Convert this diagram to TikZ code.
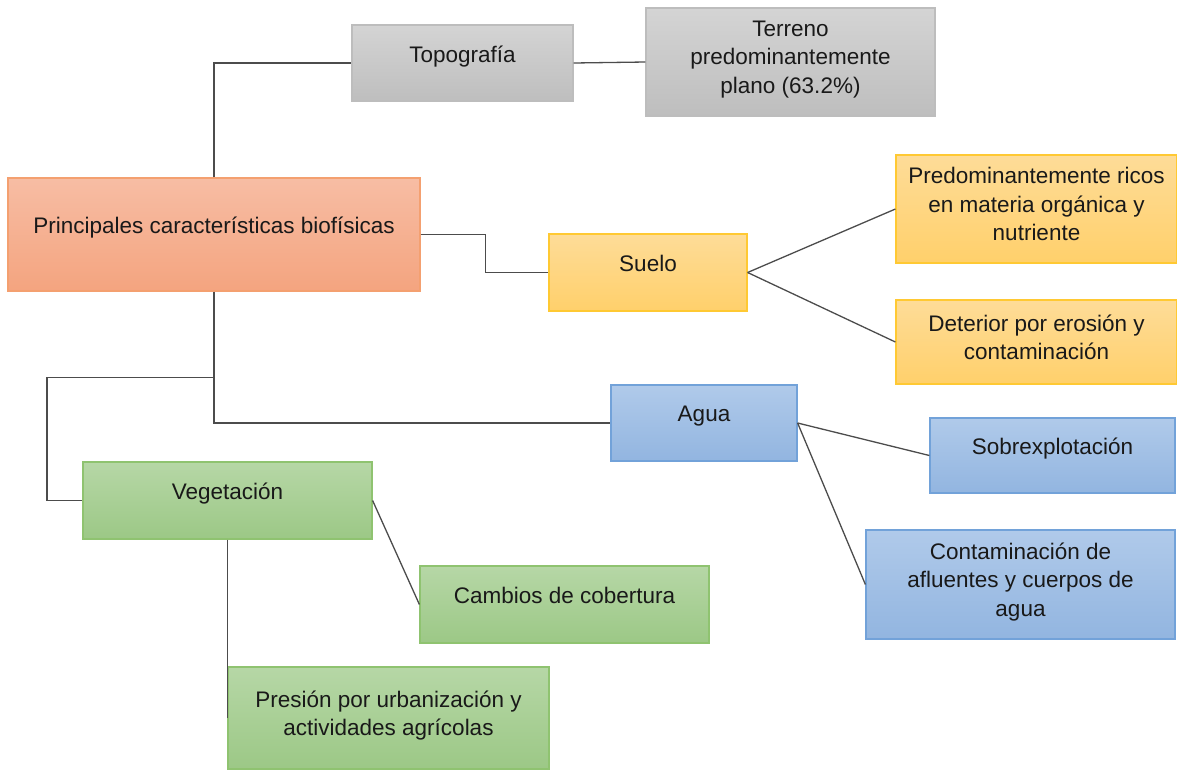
\documentclass[tikz,border=0pt]{standalone}
\usepackage{fontspec}
\setmainfont{Liberation Sans}
\usepackage{tikz}
\usepackage{xcolor}

\definecolor{gristop}{HTML}{D4D4D4}
\definecolor{grisbot}{HTML}{BEBEBE}
\definecolor{grisbor}{HTML}{BDBDBD}
\definecolor{natop}{HTML}{F7BDA4}
\definecolor{nabot}{HTML}{F4A47F}
\definecolor{nabor}{HTML}{F4A070}
\definecolor{amtop}{HTML}{FEDC98}
\definecolor{ambot}{HTML}{FFD06B}
\definecolor{ambor}{HTML}{FFC933}
\definecolor{aztop}{HTML}{B0CAEA}
\definecolor{azbot}{HTML}{92B5E0}
\definecolor{azbor}{HTML}{72A2D9}
\definecolor{vetop}{HTML}{B6D7A6}
\definecolor{vebot}{HTML}{9CC886}
\definecolor{vebor}{HTML}{8FC370}

\tikzset{
  caja/.style={draw, line width=1.2pt, inner sep=0pt, align=center, text depth=18pt,
    text=black!90, font=\fontsize{22.5}{28.5}\selectfont},
  varias/.style={text depth=10pt},
  gris/.style={caja, draw=grisbor, top color=gristop, bottom color=grisbot},
  naranja/.style={caja, draw=nabor, top color=natop, bottom color=nabot},
  amarillo/.style={caja, draw=ambor, top color=amtop, bottom color=ambot},
  azul/.style={caja, draw=azbor, top color=aztop, bottom color=azbot},
  verde/.style={caja, draw=vebor, top color=vetop, bottom color=vebot},
  linea/.style={draw=black!70, line width=1.3pt}
}

\begin{document}
\begin{tikzpicture}[x=1pt,y=1pt,yscale=-1,xscale=1]
\useasboundingbox (0,0) rectangle (1177,769);

% Boxes
\node [naranja, minimum width=412, minimum height=113] (princ) at (214,234.5) {Principales características biofísicas};
\node [gris, minimum width=221, minimum height=76] (topo) at (462.5,63) {Topografía};
\node [gris, varias, minimum width=289, minimum height=108] (terreno) at (790.5,62) {Terreno\\predominantemente\\plano (63.2\%)};
\node [amarillo, minimum width=198, minimum height=77] (suelo) at (648,272.5) {Suelo};
\node [amarillo, varias, minimum width=281, minimum height=108] (ricos) at (1036.5,209) {Predominantemente ricos\\en materia orgánica y\\nutriente};
\node [amarillo, varias, minimum width=281, minimum height=84] (deterior) at (1036.5,342) {Deterior por erosión y\\contaminación};
\node [azul, minimum width=186, minimum height=76] (agua) at (704,423) {Agua};
\node [azul, minimum width=245, minimum height=75] (sobre) at (1052.5,455.5) {Sobrexplotación};
\node [azul, varias, minimum width=309, minimum height=109] (contam) at (1020.5,584.5) {Contaminación de\\afluentes y cuerpos de\\agua};
\node [verde, minimum width=289, minimum height=77] (veget) at (227.5,500.5) {Vegetación};
\node [verde, minimum width=289, minimum height=77] (cambios) at (564.5,604.5) {Cambios de cobertura};
\node [verde, varias, minimum width=321, minimum height=102] (presion) at (388.5,718) {Presión por urbanización y\\actividades agrícolas};

% Connectors
\draw [linea] (princ.north) |- (topo.west);
\draw [linea] (topo.east) -- (terreno.west);
\draw [linea] (princ.east) -- ++(65,0) |- (suelo.west);
\draw [linea] (suelo.east) -- (ricos.west);
\draw [linea] (suelo.east) -- (deterior.west);
\draw [linea] (princ.south) |- (agua.west);
\path (princ.south) ++(0,86) coordinate (rama);
\draw [linea] (rama) -- ++(-167,0) |- (veget.west);
\draw [linea] (agua.east) -- (sobre.west);
\draw [linea] (agua.east) -- (contam.west);
\draw [linea] (veget.east) -- (cambios.west);
\draw [linea] (veget.south) -- (veget.south |- presion.west);

\end{tikzpicture}
\end{document}
